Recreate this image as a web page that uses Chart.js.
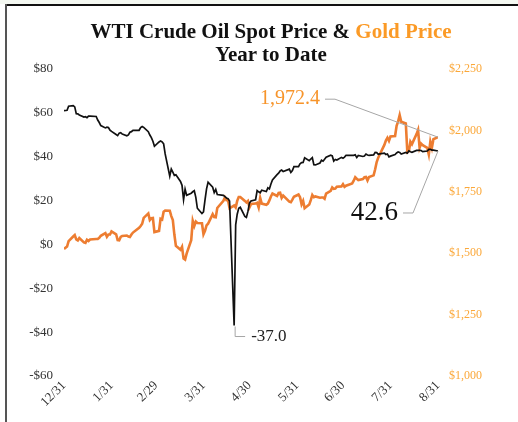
<!DOCTYPE html>
<html lang="en">
<head>
  <meta charset="UTF-8">
  <title>WTI Crude Oil Spot Price &amp; Gold Price - Year to Date</title>
  <script src="https://cdn.jsdelivr.net/npm/chart.js"></script>
  <style>
    body { margin: 0; background: #fff; }
    .wrap { position: relative; width: 518px; height: 422px; overflow: hidden; }
    .band { position: absolute; left: 0; top: 0; width: 518px; height: 4px; background: #f4f8f1; }
    .line-top { position: absolute; left: 6px; right: 0; top: 4px; border-top: 2px solid #111; }
    .line-left { position: absolute; left: 5px; top: 4px; bottom: 0; border-left: 2px solid #555; }
    .title {
      position: absolute; left: 24px; width: 494px; top: 20px;
      text-align: center; font: bold 21px/23px "Liberation Serif", serif; color: #111;
    }
    .title .gold { color: #fb9a26; }
    canvas { position: absolute; left: 0; top: 0; }
  </style>
</head>
<body>
<div class="wrap">
  <div class="band"></div>
  <canvas id="chart" width="518" height="422"></canvas>
  <div class="line-top"></div>
  <div class="line-left"></div>
  <div class="title">WTI Crude Oil Spot Price &amp; <span class="gold">Gold Price</span><br>Year to Date</div>
</div>

<script>
  // trading days, 12/31/2019 through 8/31/2020
  const dates = [
    '12/31',
    '1/2','1/3','1/6','1/7','1/8','1/9','1/10','1/13','1/14','1/15','1/16','1/17','1/21','1/22','1/23','1/24','1/27','1/28','1/29','1/30','1/31',
    '2/3','2/4','2/5','2/6','2/7','2/10','2/11','2/12','2/13','2/14','2/18','2/19','2/20','2/21','2/24','2/25','2/26','2/27','2/28',
    '3/2','3/3','3/4','3/5','3/6','3/9','3/10','3/11','3/12','3/13','3/16','3/17','3/18','3/19','3/20','3/23','3/24','3/25','3/26','3/27','3/30','3/31',
    '4/1','4/2','4/3','4/6','4/7','4/8','4/9','4/13','4/14','4/15','4/16','4/17','4/20','4/21','4/22','4/23','4/24','4/27','4/28','4/29','4/30',
    '5/1','5/4','5/5','5/6','5/7','5/8','5/11','5/12','5/13','5/14','5/15','5/18','5/19','5/20','5/21','5/22','5/26','5/27','5/28','5/29',
    '6/1','6/2','6/3','6/4','6/5','6/8','6/9','6/10','6/11','6/12','6/15','6/16','6/17','6/18','6/19','6/22','6/23','6/24','6/25','6/26','6/29','6/30',
    '7/1','7/2','7/6','7/7','7/8','7/9','7/10','7/13','7/14','7/15','7/16','7/17','7/20','7/21','7/22','7/23','7/24','7/27','7/28','7/29','7/30','7/31',
    '8/3','8/4','8/5','8/6','8/7','8/10','8/11','8/12','8/13','8/14','8/17','8/18','8/19','8/20','8/21','8/24','8/25','8/26','8/27','8/28','8/31'
  ];

  // WTI crude, $/bbl (left axis)
  const oil = [
    61.06,
    61.18, 63.05, 63.27, 62.70, 59.61, 59.56, 59.04, 58.08, 58.23, 57.81, 58.52, 58.54, 58.34, 56.74, 55.59, 54.19, 53.14, 53.48, 53.33, 52.14, 51.56,
    50.11, 49.61, 50.75, 50.95, 50.32, 49.57, 49.94, 51.17, 51.42, 52.05, 52.05, 53.29, 53.78, 53.38, 51.43, 49.90, 48.73, 47.09, 44.76,
    46.75, 47.18, 46.78, 45.90, 41.28, 31.13, 34.36, 32.98, 31.50, 31.73, 28.70, 26.95, 20.37, 25.22, 22.43, 23.36, 24.01, 24.49, 21.50, 16.50, 14.10, 14.80,
    20.31, 25.32, 28.34, 26.08, 23.63, 25.09, 22.76, 22.41, 21.80, 21.20, 20.90, 19.80, -36.98, 8.91, 13.78, 16.50, 16.94, 12.78, 12.34, 15.06, 18.84,
    19.78, 20.39, 24.56, 23.99, 23.55, 24.74, 24.14, 25.78, 25.29, 27.56, 29.43, 31.82, 32.50, 33.49, 33.92, 33.25, 34.35, 32.81, 33.71, 35.49,
    35.44, 36.81, 37.29, 37.41, 39.55, 38.19, 38.94, 39.60, 36.34, 36.26, 37.12, 38.38, 37.96, 38.84, 39.75, 40.73, 40.37, 38.01, 38.72, 38.49, 39.70, 39.27,
    39.82, 40.65, 40.63, 40.62, 40.90, 39.62, 40.55, 40.10, 40.29, 41.20, 40.75, 40.59, 40.81, 41.96, 41.90, 41.07, 41.29, 41.60, 41.04, 41.27, 39.92, 40.27,
    41.01, 41.70, 42.19, 41.95, 41.22, 41.94, 41.61, 42.67, 42.24, 42.01, 42.89, 42.89, 42.93, 42.82, 42.34, 42.62, 43.35, 43.39, 43.04, 42.97, 42.61
  ];

  // gold, $/oz (right axis)
  const gold = [
    1517,
    1527, 1549, 1568, 1574, 1556, 1552, 1562, 1544, 1542, 1555, 1550, 1556, 1558, 1558, 1563, 1571, 1582, 1567, 1576, 1576, 1589,
    1577, 1553, 1552, 1566, 1570, 1572, 1568, 1566, 1576, 1584, 1603, 1611, 1620, 1644, 1662, 1635, 1642, 1643, 1586,
    1591, 1640, 1637, 1669, 1674, 1673, 1651, 1635, 1576, 1530, 1514, 1526, 1478, 1474, 1498, 1553, 1632, 1611, 1629, 1623, 1622, 1577,
    1591, 1613, 1620, 1659, 1647, 1646, 1684, 1713, 1727, 1716, 1717, 1683, 1694, 1686, 1713, 1729, 1729, 1713, 1707, 1713, 1687,
    1700, 1702, 1705, 1686, 1725, 1702, 1697, 1702, 1715, 1731, 1743, 1733, 1745, 1746, 1725, 1735, 1710, 1708, 1718, 1730,
    1739, 1728, 1699, 1713, 1683, 1698, 1716, 1737, 1728, 1731, 1726, 1727, 1727, 1722, 1743, 1754, 1768, 1762, 1763, 1771, 1772, 1781,
    1770, 1775, 1784, 1795, 1809, 1803, 1798, 1802, 1809, 1810, 1796, 1810, 1817, 1842, 1871, 1889, 1902, 1941, 1959, 1970, 1957, 1975,
    1977, 2019, 2037, 2062, 2035, 2028, 1911, 1915, 1954, 1944, 1985, 2002, 1929, 1946, 1940, 1929, 1902, 1954, 1929, 1964, 1972.4
  ];

  const tickLabels = ['12/31', '1/31', '2/29', '3/31', '4/30', '5/31', '6/30', '7/31', '8/31'];

  // days since 12/31/2019 (2020 is a leap year)
  const monthStart = { 1: 0, 2: 31, 3: 60, 4: 91, 5: 121, 6: 152, 7: 182, 8: 213, 9: 244 };
  function dayNum(md) {
    const [m, d] = md.split('/').map(Number);
    return m === 12 ? 0 : monthStart[m] + d;
  }
  const tickDays = tickLabels.map(dayNum);

  const serif = '"Liberation Serif", "Times New Roman", serif';

  // leader lines + value labels
  const callouts = {
    id: 'callouts',
    afterDatasetsDraw(chart) {
      const { ctx, scales } = chart;
      const n = dates.length - 1;
      const xEnd = scales.x.getPixelForValue(dayNum(dates[n]));
      const yOil = scales.y.getPixelForValue(oil[n]);
      const yGold = scales.y2.getPixelForValue(gold[n]);
      const iMin = oil.indexOf(Math.min(...oil));
      const xMin = scales.x.getPixelForValue(dayNum(dates[iMin]));
      const yMin = scales.y.getPixelForValue(oil[iMin]);

      ctx.save();
      ctx.strokeStyle = '#a6a6a6';
      ctx.lineWidth = 1;
      ctx.beginPath();
      ctx.moveTo(xEnd, yGold);
      ctx.lineTo(xEnd - 103, yGold - 38);
      ctx.lineTo(xEnd - 113, yGold - 38);
      ctx.moveTo(xEnd, yOil);
      ctx.lineTo(xEnd - 25, yOil + 62);
      ctx.lineTo(xEnd - 35, yOil + 62);
      ctx.moveTo(xMin + 1, yMin + 1);
      ctx.lineTo(xMin + 1, yMin + 11);
      ctx.lineTo(xMin + 11, yMin + 11);
      ctx.stroke();

      ctx.textBaseline = 'middle';
      ctx.textAlign = 'right';
      ctx.fillStyle = '#f7942a';
      ctx.font = '20px ' + serif;
      ctx.fillText(gold[n].toLocaleString('en-US', { minimumFractionDigits: 1, maximumFractionDigits: 1 }), xEnd - 118, yGold - 38);
      ctx.fillStyle = '#111';
      ctx.font = '27px ' + serif;
      ctx.fillText(oil[n].toFixed(1), xEnd - 40, yOil + 62);
      ctx.textAlign = 'left';
      ctx.font = '17px ' + serif;
      ctx.fillStyle = '#222';
      ctx.fillText(oil[iMin].toFixed(1), xMin + 17, yMin + 11);
      ctx.restore();
    }
  };

  new Chart(document.getElementById('chart'), {
    type: 'line',
    data: {
      datasets: [
        {
          label: 'WTI Crude Oil',
          data: dates.map((d, i) => ({ x: dayNum(d), y: oil[i] })),
          yAxisID: 'y',
          borderColor: '#111',
          borderWidth: 1.7,
          pointRadius: 0,
          tension: 0,
          order: 0
        },
        {
          label: 'Gold',
          data: dates.map((d, i) => ({ x: dayNum(d), y: gold[i] })),
          yAxisID: 'y2',
          borderColor: '#ed7d31',
          borderWidth: 2.6,
          pointRadius: 0,
          tension: 0,
          order: 1
        }
      ]
    },
    options: {
      responsive: false,
      animation: false,
      devicePixelRatio: 1,
      layout: { padding: { top: 69, left: 0, right: 0, bottom: 0 } },
      plugins: {
        legend: { display: false },
        tooltip: { enabled: false }
      },
      scales: {
        x: {
          type: 'linear',
          min: 0,
          max: 244,
          grid: { display: false, drawTicks: false },
          border: { display: false },
          afterBuildTicks: s => { s.ticks = tickDays.map(v => ({ value: v })); },
          afterFit: s => { s.height = 46; },
          ticks: {
            autoSkip: false,
            minRotation: 45,
            maxRotation: 45,
            padding: 2,
            color: '#333',
            font: { family: serif, size: 13 },
            callback: v => tickLabels[tickDays.indexOf(v)]
          }
        },
        y: {
          position: 'left',
          min: -60,
          max: 80,
          grid: { display: false, drawTicks: false },
          border: { display: false },
          afterFit: s => { s.width = 64; },
          ticks: {
            stepSize: 20,
            padding: 11,
            color: '#333',
            font: { family: serif, size: 13 },
            callback: v => (v < 0 ? '-$' : '$') + Math.abs(v)
          }
        },
        y2: {
          position: 'right',
          min: 1000,
          max: 2250,
          grid: { display: false, drawTicks: false },
          border: { display: false },
          afterFit: s => { s.width = 80; },
          ticks: {
            stepSize: 250,
            padding: 11,
            color: '#fba83a',
            font: { family: serif, size: 12 },
            callback: v => '$' + v.toLocaleString('en-US')
          }
        }
      }
    },
    plugins: [callouts]
  });
</script>
</body>
</html>
